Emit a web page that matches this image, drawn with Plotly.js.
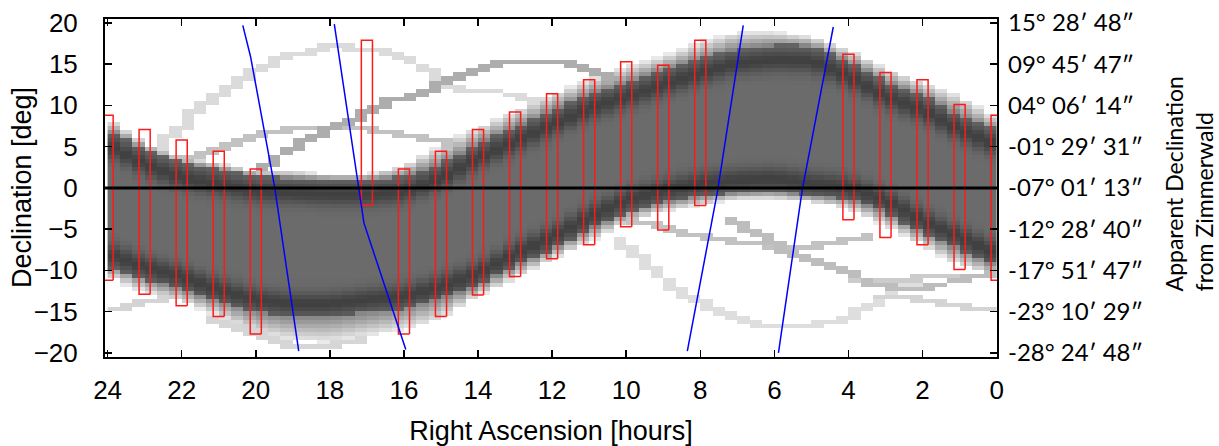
<!DOCTYPE html>
<html><head><meta charset="utf-8">
<script src="https://cdn.plot.ly/plotly-3.0.1.min.js"></script>
<style>html,body{margin:0;padding:0;background:#fff}</style>
</head><body><div id="chart" style="width:1219px;height:446px"></div>
<script>
// ---- data ----
const hours = [0,1,2,3,4,5,6,7,8,9,10,11,12,13,14,15,16,17,18,19,20,21,22,23,24];
const bandTop = [7.0,8.8,11.2,12.85,15.3,17.2,17.3,16.9,15.7,14.3,12.8,11.4,9.4,7.4,5.4,2.9,1.3,1.0,1.0,1.2,1.4,2.2,3.0,4.6,7.0];
const bandBottom = [-9.5,-7.5,-5.5,-3.0,-1.4,-1.0,-0.4,-0.6,-1.0,-1.8,-3.0,-5.1,-7.5,-9.5,-11.9,-13.5,-14.7,-15.1,-15.6,-15.6,-15.1,-13.9,-12.3,-11.1,-9.5];
const topFringe = [1.5,2.4,1.65,1.65,1.6,1.1,1.6,2.0,2.0,1.7,1.9,1.8,2.0,2.0,2.0,2.4,1.4,0.6,0.6,0.8,0.6,0.8,0.8,0.9,1.5];
const bottomFringe = [1.4,2.0,1.6,1.6,1.2,0.8,1.0,0.8,1.2,1.2,1.2,1.6,1.2,1.6,1.2,2.5,2.5,2.9,3.2,3.0,2.5,1.7,1.6,1.6,1.4];

const track1RA = [22.8,22.5,22.25,21.94,21.62,21.27,20.9,20.5,20.19,19.82,19.46,19.15,18.65,18.11,17.39,16.85,16.4,15.95,15.5,15.14,14.8,14.4,13.5,13.1,12.7,12.3];
const track1Dec = [3.5,5.0,6.6,7.6,9.4,10.2,11.8,12.85,13.85,14.5,15.3,15.9,16.5,17.0,17.0,16.7,16.3,15.5,14.7,13.9,12.6,11.9,11.7,11.2,10.6,9.9];
const track2RA = [22.2,21.6,20.6,19.73,19.0,17.84,16.85,15.95,15.06,14.4];
const track2Dec = [3.3,4.0,5.4,6.6,7.0,7.2,7.0,6.4,5.6,5.0];
const track3RA = [19.8,19.2,18.47,17.75,17.12,16.58,15.95,15.06,14.38,13.92,13.3,12.5,11.68,11.23,10.78,10.33];
const track3Dec = [2.4,4.4,6.0,7.6,8.8,10.2,11.0,12.4,13.9,14.6,15.1,15.2,15.1,14.5,13.9,12.8];
const track4RA = [10.33,9.79,9.52,9.16,8.85,8.48,7.81,7.09,6.19,5.29,4.57,3.85,3.49,3.04,2.59,2.1];
const track4Dec = [-6.27,-7.88,-9.1,-10.3,-11.7,-12.7,-14.3,-15.8,-16.8,-16.8,-16.4,-15.4,-14.5,-13.5,-12.3,-11.3];
const track5RA = [10.3,9.79,8.89,8.62,7.99,7.54,6.91,6.19,5.65,4.84,4.39,3.85,3.4];
const track5Dec = [-4.0,-4.0,-4.65,-5.46,-5.86,-6.27,-6.67,-7.07,-7.28,-7.07,-6.67,-6.27,-5.86];
const track6RA = [7.27,6.46,6.0,5.56,5.11,4.57,3.85,3.13,2.59,1.69,0.79,0.3];
const track6Dec = [-3.84,-5.46,-6.67,-7.88,-8.69,-9.5,-10.7,-11.9,-12.3,-11.9,-10.9,-10.5];
const track7RA = [3.8,2.9,2.0,1.0,0.1];
const track7Dec = [-11.1,-11.1,-11.0,-10.9,-10.9];
const track8RA = [3.2,2.23,1.33,0.6,0.0];
const track8Dec = [-13.4,-13.5,-14.1,-14.6,-15.0];
const track9RA = [24.0,23.5,23.1,22.5,21.98];
const track9Dec = [-15.0,-14.6,-14.0,-13.6,-13.1];
const track10RA = [21.1,20.45,19.9,19.4,18.8,18.3,17.6,17.0];
const track10Dec = [-16.0,-16.8,-18.0,-18.8,-19.2,-19.2,-18.8,-18.4];
const trackLevels = [0.14,0.24,0.32,0.13,0.24,0.26,0.2,0.17,0.17,0.16];

const rectRA = [24,23,22,21,20,17,16,15,14,13,12,11,10,9,8,4,3,2,1,0];
const rectTop = [8.8,7.07,5.8,4.44,2.3,17.9,2.3,4.44,7.07,9.2,11.4,13.1,15.3,14.86,17.9,16.2,14.0,13.1,10.1,8.8];
const rectBottom = [-11.2,-12.9,-14.3,-15.6,-17.7,-2.15,-17.7,-15.6,-12.97,-10.75,-8.6,-6.9,-4.7,-5.1,-2.15,-3.85,-6.0,-6.9,-9.9,-11.2];

const blue1RA = [20.35,20.14,19.49,18.84];
const blue1Dec = [19.7,15.9,0.1,-19.8];
const blue2RA = [17.88,17.22,17.08,15.95];
const blue2Dec = [19.85,0.0,-4.25,-19.6];
const blue3RA = [6.84,7.53,8.35];
const blue3Dec = [19.7,-0.3,-19.8];
const blue4RA = [4.41,5.25,5.89];
const blue4Dec = [19.5,-0.3,-20.0];

const xTickVals = [0,2,4,6,8,10,12,14,16,18,20,22,24];
const yTickVals = [-20,-15,-10,-5,0,5,10,15,20];
const rightTickText = ["-28° 24′ 48″","-23° 10′ 29″","-17° 51′ 47″","-12° 28′ 40″","-07° 01′ 13″","-01° 29′ 31″","04° 06′ 14″","09° 45′ 47″","15° 28′ 48″"];

// ---- density image built from the read band edges and tracks ----
const raStep = 1/3, decStep = 0.5, decMin = -20.5;
const nRA = 72, nDec = 82;
const xc = [], yc = [];
for (let i = 0; i < nRA; i++) xc.push((i + 0.5) * raStep);
for (let j = 0; j < nDec; j++) yc.push(decMin + (j + 0.5) * decStep);
function edge(arr, ra) {
  const i = Math.min(hours.length - 2, Math.floor(ra));
  const f = ra - hours[i];
  return arr[i] * (1 - f) + arr[i + 1] * f;
}
const z = [];
for (let j = 0; j < nDec; j++) {
  const row = [];
  for (let i = 0; i < nRA; i++) {
    const ra = xc[i], dec = yc[j];
    const T = edge(bandTop, ra), B = edge(bandBottom, ra);
    const Ft = edge(topFringe, ra), Fb = edge(bottomFringe, ra);
    let v = 0;
    if (dec <= T && dec >= B) {
      const dt = T - dec, db = dec - B;
      v = 0.58 + 0.17 * Math.exp(-Math.pow((dt - 1.8) / 1.4, 2)) + 0.17 * Math.exp(-Math.pow((db - 1.5) / 1.4, 2));
      v = Math.min(v, 0.8);
    } else if (dec > T && dec < T + Ft) {
      v = 0.08 + 0.4 * (1 - (dec - T) / Ft);
    } else if (dec < B && dec > B - Fb) {
      v = 0.08 + 0.4 * (1 - (B - dec) / Fb);
    }
    row.push(v);
  }
  z.push(row);
}
const tracks = [
  [track1RA, track1Dec],[track2RA, track2Dec],[track3RA, track3Dec],[track4RA, track4Dec],
  [track5RA, track5Dec],[track6RA, track6Dec],[track7RA, track7Dec],[track8RA, track8Dec],
  [track9RA, track9Dec],[track10RA, track10Dec]
];
tracks.forEach((t, k) => {
  const ras = t[0], decs = t[1], lev = trackLevels[k];
  for (let s = 0; s < ras.length - 1; s++) {
    const n = 40;
    for (let q = 0; q <= n; q++) {
      const f = q / n;
      const ra = ras[s] + (ras[s + 1] - ras[s]) * f;
      const dec = decs[s] + (decs[s + 1] - decs[s]) * f;
      const i = Math.min(nRA - 1, Math.max(0, Math.floor(ra / raStep)));
      const j = Math.min(nDec - 1, Math.max(0, Math.floor((dec - decMin) / decStep)));
      if (z[j][i] < lev) z[j][i] = lev;
    }
  }
});

// ---- red boxes ----
const halfW = 0.15;
const rx = [], ry = [];
rectRA.forEach((ra, k) => {
  rx.push(ra - halfW, ra + halfW, ra + halfW, ra - halfW, ra - halfW, null);
  ry.push(rectBottom[k], rectBottom[k], rectTop[k], rectTop[k], rectBottom[k], null);
});

const font = 'Liberation Sans, Arial, Helvetica, sans-serif';
const rfont = 'Lato, DejaVu Sans, sans-serif';
const blueStyle = {color: '#0000ff', width: 1.5};

const data = [
  {type: 'heatmap', x: xc, y: yc, z: z, zmin: 0, zmax: 1, colorscale: [[0, '#ffffff'], [1, '#000000']], showscale: false, hoverinfo: 'skip', zsmooth: false},
  {type: 'scatter', mode: 'lines', x: rx, y: ry, line: {color: '#ff1a1a', width: 1.5}, hoverinfo: 'skip', showlegend: false},
  {type: 'scatter', mode: 'lines', x: blue1RA, y: blue1Dec, line: blueStyle, yaxis: 'y2', showlegend: false},
  {type: 'scatter', mode: 'lines', x: blue2RA, y: blue2Dec, line: blueStyle, yaxis: 'y2', showlegend: false},
  {type: 'scatter', mode: 'lines', x: blue3RA, y: blue3Dec, line: blueStyle, yaxis: 'y2', showlegend: false},
  {type: 'scatter', mode: 'lines', x: blue4RA, y: blue4Dec, line: blueStyle, yaxis: 'y2', showlegend: false}
];

const yRange = [-20.5, 20.47];
const layout = {
  width: 1219, height: 446,
  margin: {l: 105, r: 222, t: 19, b: 89},
  paper_bgcolor: '#fff', plot_bgcolor: '#fff',
  showlegend: false,
  xaxis: {
    range: [24.07, -0.01], tickvals: xTickVals, ticks: 'inside', ticklen: 7, tickwidth: 1.5, tickcolor: '#000',
    showline: true, linewidth: 2, linecolor: '#000', mirror: 'ticks', showgrid: false, zeroline: false,
    tickfont: {family: font, size: 26, color: '#000'}, ticklabelstandoff: 9,
    title: {text: 'Right Ascension [hours]', font: {family: font, size: 27, color: '#000'}, standoff: 18}
  },
  yaxis: {
    range: yRange, tickvals: yTickVals, ticks: 'inside', ticklen: 7, tickwidth: 1.5, tickcolor: '#000',
    showline: true, linewidth: 2, linecolor: '#000', mirror: true, showgrid: false, zeroline: false,
    tickfont: {family: font, size: 26, color: '#000'}, ticklabelstandoff: 20
  },
  yaxis2: {
    range: yRange, overlaying: 'y', side: 'right', tickvals: yTickVals, ticktext: rightTickText,
    ticks: 'inside', ticklen: 7, tickwidth: 1.5, tickcolor: '#000', showgrid: false, zeroline: false, showline: false,
    tickfont: {family: rfont, size: 24, color: '#000'}, ticklabelstandoff: 10
  },
  shapes: [
    {type: 'line', xref: 'paper', x0: 0, x1: 1, yref: 'y', y0: 0, y1: 0, line: {color: '#000', width: 3}, layer: 'above'}
  ],
  annotations: [
    {xref: 'paper', yref: 'paper', x: -0.093, y: 0.5, xanchor: 'center', yanchor: 'middle',
     text: 'Declination [deg]', textangle: -90, showarrow: false,
     font: {family: font, size: 27, color: '#000'}},
    {xref: 'paper', yref: 'paper', x: 1.215, y: 0.513, xanchor: 'center', yanchor: 'middle',
     text: 'Apparent Declination<br>from Zimmerwald', textangle: -90, align: 'left', showarrow: false,
     font: {family: rfont, size: 23, color: '#000'}}
  ]
};
Plotly.newPlot('chart', data, layout, {staticPlot: true, displayModeBar: false});
</script>
</body></html>
